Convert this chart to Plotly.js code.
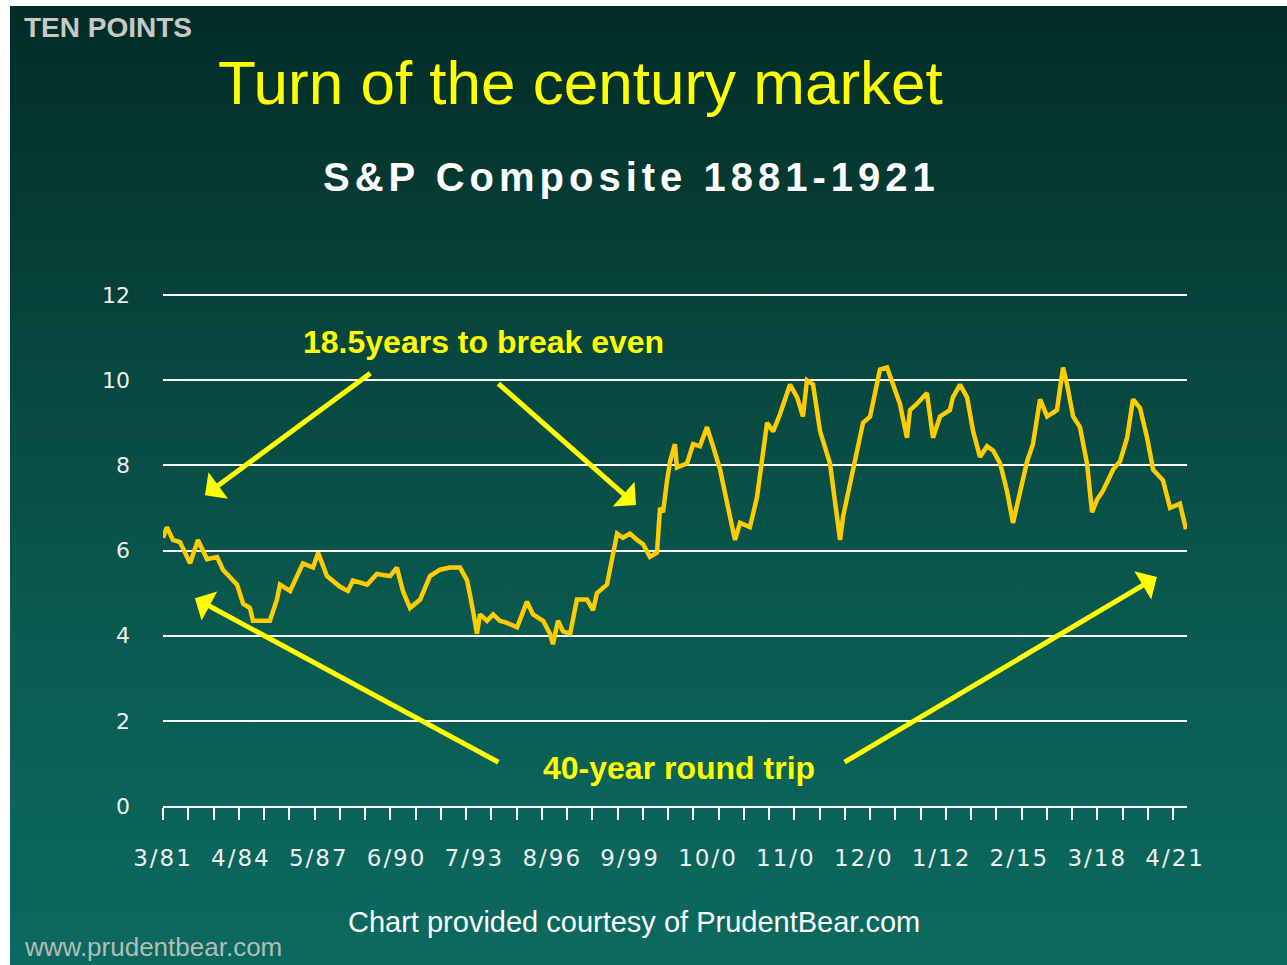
<!DOCTYPE html>
<html>
<head>
<meta charset="utf-8">
<script src="https://cdn.plot.ly/plotly-3.0.1.min.js"></script>
<style>
  html, body { margin: 0; padding: 0; background: #ffffff; }
  #chart {
    position: absolute; left: 10px; top: 6px; width: 1277px; height: 959px;
    background: linear-gradient(to bottom, #022c26 0%, #07463e 35%, #0a5d53 70%, #0b6a60 100%);
  }
</style>
</head>
<body>
<div id="chart"></div>
<script>
// S&P Composite, decimal year vs index level
const years = [
  1881.17,1881.32,1881.56,1881.84,1882.24,1882.55,1882.91,1883.31,1883.54,1884.10,
  1884.34,1884.61,1884.73,1885.40,1885.68,1885.80,1886.20,1886.71,1887.11,1887.31,
  1887.66,1888.18,1888.49,1888.69,1889.25,1889.64,1890.16,1890.43,1890.67,1890.95,
  1891.35,1891.74,1892.14,1892.53,1892.93,1893.21,1893.44,1893.60,1893.72,1894.00,
  1894.24,1894.51,1894.79,1895.19,1895.58,1895.82,1896.22,1896.49,1896.61,1896.81,
  1897.01,1897.29,1897.56,1897.96,1898.20,1898.35,1898.75,1898.95,1899.15,1899.38,
  1899.66,1899.94,1900.18,1900.45,1900.73,1900.85,1900.97,1901.13,1901.25,1901.44,
  1901.52,1901.92,1902.16,1902.43,1902.71,1902.95,1903.23,1903.62,1903.82,1904.02,
  1904.41,1904.69,1905.09,1905.33,1905.60,1906.00,1906.28,1906.51,1906.67,1906.91,
  1907.19,1907.58,1907.86,1907.98,1908.10,1908.49,1908.89,1909.17,1909.56,1909.84,
  1910.08,1910.35,1910.63,1910.75,1911.03,1911.42,1911.66,1911.94,1912.33,1912.45,
  1912.73,1913.01,1913.25,1913.52,1913.80,1914.04,1914.32,1914.59,1914.83,1915.11,
  1915.39,1915.62,1915.90,1916.18,1916.57,1916.81,1916.97,1917.21,1917.48,1917.76,
  1917.96,1918.16,1918.39,1918.79,1919.07,1919.35,1919.58,1919.86,1920.14,1920.38,
  1920.77,1921.05,1921.44,1921.68
];
const prices = [
  6.30,6.55,6.25,6.20,5.70,6.25,5.80,5.85,5.55,5.20,
  4.75,4.65,4.35,4.35,4.85,5.20,5.05,5.70,5.60,5.95,
  5.40,5.15,5.05,5.30,5.20,5.45,5.40,5.60,5.05,4.65,
  4.85,5.40,5.55,5.60,5.60,5.30,4.60,4.05,4.50,4.35,
  4.50,4.35,4.30,4.20,4.80,4.50,4.35,4.05,3.80,4.35,
  4.10,4.05,4.85,4.85,4.60,5.00,5.20,5.80,6.40,6.30,
  6.40,6.25,6.15,5.85,5.95,7.00,6.90,7.65,8.10,8.50,
  7.95,8.05,8.50,8.45,8.90,8.45,7.90,6.80,6.25,6.65,
  6.55,7.25,9.00,8.80,9.20,9.90,9.60,9.15,10.00,9.90,
  8.80,8.05,6.70,6.25,6.80,7.90,9.00,9.15,10.25,10.30,
  9.90,9.45,8.65,9.30,9.45,9.70,8.65,9.15,9.30,9.60,
  9.90,9.60,8.80,8.20,8.45,8.35,8.05,7.40,6.65,7.35,
  8.10,8.50,9.55,9.15,9.30,10.30,9.90,9.15,8.90,8.05,
  6.90,7.20,7.40,7.90,8.10,8.65,9.55,9.35,8.65,7.90,
  7.65,7.00,7.10,6.50
];
// x-axis labels every 37 months starting 3/1881
const tickValues = [0,1,2,3,4,5,6,7,8,9,10,11,12,13].map(k => 1881 + 2/12 + k * 37 / 12);
const tickLabels = ["3/81","4/84","5/87","6/90","7/93","8/96","9/99","10/0","11/0","12/0","1/12","2/15","3/18","4/21"];
const yTicks = [0,2,4,6,8,10,12];

const yellow = '#ffff00';
const sp = (t, ls) => `<span style="letter-spacing:${ls}px">${t}</span>`;

const trace = {
  x: years, y: prices, type: 'scatter', mode: 'lines',
  line: { color: '#ffcc00', width: 4.5 },
  hoverinfo: 'skip'
};

const arrowStyle = { showarrow: true, arrowcolor: yellow, arrowwidth: 5, arrowhead: 1, arrowsize: 1.1,
  xref: 'x', yref: 'y', axref: 'x', ayref: 'y', text: '' };

const layout = {
  width: 1277, height: 959,
  paper_bgcolor: 'rgba(0,0,0,0)', plot_bgcolor: 'rgba(0,0,0,0)',
  margin: { l: 153, r: 100, t: 287, b: 159 },
  showlegend: false,
  font: { family: 'DejaVu Sans, sans-serif', color: '#ffffff' },
  xaxis: {
    range: [1881 + 2/12, 1921.72],
    tickmode: 'array', tickvals: tickValues, ticktext: tickLabels.map(t => sp(t, 2)),
    ticks: '', showgrid: false, zeroline: false,
    showline: true, linecolor: '#ffffff', linewidth: 2,
    ticklabelstandoff: 30,
    tickfont: { family: 'DejaVu Sans, sans-serif', size: 23, color: '#eeeeee' },
    minor: { ticks: 'outside', ticklen: 12, tickwidth: 2, tickcolor: '#ffffff',
             tick0: 1881 + 2/12, dtick: 1, showgrid: false }
  },
  yaxis: {
    range: [0, 12.05], tickmode: 'array', tickvals: yTicks,
    ticks: '', showgrid: true, gridcolor: '#ffffff', gridwidth: 2,
    zeroline: false, showline: false,
    ticklabelstandoff: 32,
    tickfont: { family: 'DejaVu Sans, sans-serif', size: 22, color: '#eeeeee' }
  },
  annotations: [
    { text: 'TEN POINTS', xref: 'paper', yref: 'paper', x: -0.1377, y: 1.5185,
      xanchor: 'left', yanchor: 'middle', showarrow: false,
      font: { family: 'Liberation Sans, Arial, sans-serif', size: 28, color: '#c8c8c8', weight: 'bold' } },
    { text: 'Turn of the century market', xref: 'paper', yref: 'paper', x: 0.408, y: 1.411,
      xanchor: 'center', yanchor: 'middle', showarrow: false,
      font: { family: 'Liberation Sans, Arial, sans-serif', size: 62, color: yellow } },
    { text: sp('S&amp;P Composite 1881-1921', 5), xref: 'paper', yref: 'paper', x: 0.458, y: 1.226,
      xanchor: 'center', yanchor: 'middle', showarrow: false,
      font: { family: 'Liberation Sans, Arial, sans-serif', size: 40, color: '#ffffff', weight: 'bold' } },
    { text: '18.5years to break even', xref: 'paper', yref: 'paper', x: 0.3125, y: 0.9045,
      xanchor: 'center', yanchor: 'middle', showarrow: false,
      font: { family: 'Liberation Sans, Arial, sans-serif', size: 32, color: yellow, weight: 'bold' } },
    { text: '40-year round trip', xref: 'paper', yref: 'paper', x: 0.504, y: 0.0741,
      xanchor: 'center', yanchor: 'middle', showarrow: false,
      font: { family: 'Liberation Sans, Arial, sans-serif', size: 32, color: yellow, weight: 'bold' } },
    { text: 'Chart provided courtesy of PrudentBear.com', xref: 'paper', yref: 'paper', x: 0.46, y: -0.2261,
      xanchor: 'center', yanchor: 'middle', showarrow: false,
      font: { family: 'Liberation Sans, Arial, sans-serif', size: 29, color: '#ffffff' } },
    { text: 'www.prudentbear.com', xref: 'paper', yref: 'paper', x: -0.1377, y: -0.2749,
      xanchor: 'left', yanchor: 'middle', showarrow: false,
      font: { family: 'Liberation Sans, Arial, sans-serif', size: 26, color: '#b4bcb8' } },
    Object.assign({}, arrowStyle, { x: 1882.83, y: 7.30, ax: 1889.44, ay: 10.19 }),
    Object.assign({}, arrowStyle, { x: 1899.90, y: 7.07, ax: 1894.39, ay: 9.95 }),
    Object.assign({}, arrowStyle, { x: 1882.43, y: 4.88, ax: 1894.51, ay: 1.01 }),
    Object.assign({}, arrowStyle, { x: 1920.53, y: 5.38, ax: 1908.10, ay: 1.01 })
  ]
};

Plotly.newPlot('chart', [trace], layout, { staticPlot: true, displayModeBar: false });
</script>
</body>
</html>
